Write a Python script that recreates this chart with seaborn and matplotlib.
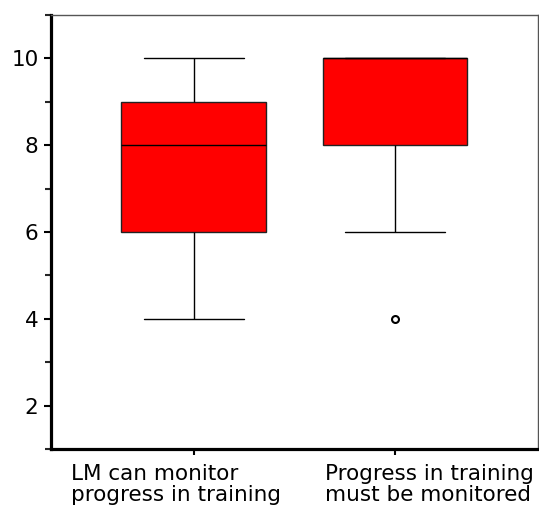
import matplotlib
matplotlib.use('Agg')
import matplotlib.pyplot as plt
import matplotlib.transforms as mtransforms
from matplotlib.ticker import MultipleLocator
import pandas as pd
import seaborn as sns

# ratings per statement
groups = ['LM can monitor\nprogress in training', 'Progress in training\nmust be monitored']
monitor_ratings = [4, 6, 6, 7, 8, 8, 9, 9, 10]
must_ratings = [4, 6, 8, 8, 10, 10, 10, 10, 10]

df = pd.DataFrame({
    'statement': [groups[0]] * len(monitor_ratings) + [groups[1]] * len(must_ratings),
    'rating': monitor_ratings + must_ratings,
})

sns.set_style('white')
plt.rcParams['font.family'] = ['DejaVu Sans']

fig = plt.figure(figsize=(5.39, 5.17), dpi=100)
ax = fig.add_axes([0.0946, 0.1315, 0.9034, 0.8395])

sns.boxplot(
    data=df, x='statement', y='rating', order=groups, ax=ax,
    color='#ff0000', saturation=1, width=0.72, linecolor='black', linewidth=1,
    fliersize=5, capwidths=0.5,
    boxprops=dict(edgecolor='#222222', facecolor='#ff0000'),
    flierprops=dict(marker='o', markerfacecolor='white', markeredgecolor='black', markeredgewidth=1.5),
)

ax.set_xlim(-0.71, 1.71)
ax.set_ylim(1, 11)
ax.set_xlabel('')
ax.set_ylabel('')
ax.yaxis.set_major_locator(MultipleLocator(2))
ax.yaxis.set_minor_locator(MultipleLocator(1))
ax.set_yticks([2, 4, 6, 8, 10])
ax.set_yticklabels(['2', '4', '6', '8', '10'])

for s in ['left', 'bottom']:
    ax.spines[s].set_linewidth(2.3)
    ax.spines[s].set_color('black')
for s in ['top', 'right']:
    ax.spines[s].set_linewidth(1)
    ax.spines[s].set_color('#555555')

ax.tick_params(axis='y', which='major', direction='out', length=5, width=1.5,
               left=True, labelsize=15.5, pad=4, colors='black')
ax.tick_params(axis='y', which='minor', direction='out', length=4, width=1.5, left=True)
ax.tick_params(axis='x', direction='out', length=4, width=1.5, bottom=True,
               labelsize=15.5, pad=7, colors='black')

# labels sit slightly off their ticks in the original
shifts = [-18, 34]
for lab, dx in zip(ax.get_xticklabels(), shifts):
    lab.set_multialignment('left')
    lab.set_linespacing(1.05)
    lab.set_transform(lab.get_transform() + mtransforms.ScaledTranslation(dx / 100, 0, fig.dpi_scale_trans))

plt.savefig('out.png', dpi=100)
